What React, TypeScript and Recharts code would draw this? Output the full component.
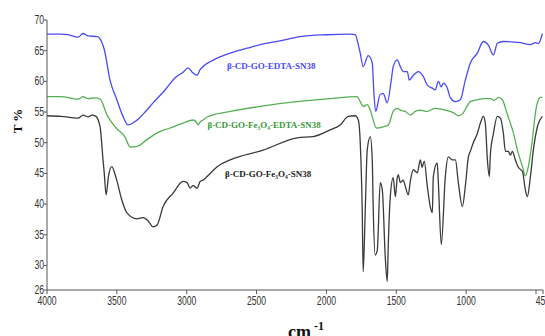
import React from "react"
import { LineChart, Line, XAxis, YAxis, ReferenceDot, Label } from "recharts"

// wavenumbers (cm-1) and transmittance (%)
const blueWn = [4000, 3900, 3850, 3778, 3742, 3706, 3640, 3610, 3590, 3549, 3500, 3460, 3420, 3380, 3340, 3298, 3241, 3155, 3083, 3026, 2990, 2961, 2926, 2904, 2868, 2832, 2782, 2689, 2567, 2453, 2331, 2188, 2000, 1830, 1794, 1772, 1758, 1737, 1701, 1672, 1660, 1648, 1615, 1593, 1565, 1536, 1522, 1493, 1471, 1450, 1421, 1407, 1378, 1342, 1307, 1278, 1242, 1221, 1199, 1178, 1163, 1135, 1113, 1077, 1042, 1006, 970, 920, 877, 841, 805, 777, 734, 612, 540, 504, 483, 454]
const blueT = [67.7, 67.7, 67.6, 67.2, 67.8, 67.4, 67.3, 66.5, 65.2, 60.2, 57.0, 54.5, 52.9, 53.3, 54.0, 55.0, 56.5, 58.6, 60.6, 61.5, 62.2, 61.5, 61.0, 61.9, 62.7, 63.2, 63.8, 64.6, 65.4, 66.1, 66.6, 67.3, 67.6, 67.7, 67.6, 66.0, 64.6, 62.4, 64.2, 63.0, 58.0, 55.1, 57.9, 58.0, 56.5, 60.2, 62.4, 63.5, 62.4, 61.6, 61.6, 60.2, 61.0, 61.6, 60.8, 59.4, 58.9, 58.6, 60.0, 59.1, 59.7, 58.9, 57.3, 56.7, 57.0, 60.2, 63.0, 64.6, 66.5, 65.9, 64.3, 66.2, 66.5, 66.3, 66.0, 66.3, 66.2, 67.8]

const greenWn = [4000, 3900, 3778, 3742, 3706, 3656, 3620, 3570, 3513, 3441, 3405, 3355, 3284, 3212, 3119, 3026, 2954, 2926, 2918, 2904, 2883, 2854, 2818, 2689, 2453, 2209, 1973, 1780, 1758, 1737, 1708, 1686, 1665, 1643, 1593, 1557, 1522, 1493, 1471, 1436, 1400, 1364, 1328, 1278, 1257, 1221, 1185, 1149, 1092, 1056, 1027, 992, 970, 920, 877, 827, 798, 769, 741, 705, 662, 633, 597, 576, 555, 526, 504, 483, 469, 454]
const greenT = [57.5, 57.5, 57.1, 57.5, 57.2, 57.3, 57.1, 54.5, 52.6, 50.9, 49.3, 49.4, 50.5, 51.6, 52.4, 53.2, 53.7, 53.2, 52.9, 53.4, 53.7, 54.2, 54.5, 55.1, 56.0, 56.7, 57.2, 57.5, 56.7, 55.9, 56.2, 55.3, 53.7, 52.4, 52.6, 52.9, 55.1, 55.6, 55.3, 55.1, 54.5, 55.1, 55.3, 55.1, 55.3, 55.6, 55.5, 55.3, 54.9, 54.4, 54.7, 56.0, 56.7, 57.0, 57.2, 57.2, 56.9, 57.4, 57.0, 54.6, 51.6, 48.8, 46.1, 44.6, 46.1, 50.5, 54.9, 57.0, 57.4, 57.4]

const blackWn = [4000, 3900, 3778, 3742, 3706, 3678, 3650, 3620, 3599, 3590, 3577, 3560, 3537, 3501, 3465, 3429, 3357, 3312, 3277, 3241, 3212, 3169, 3097, 3026, 2997, 2976, 2954, 2926, 2904, 2883, 2854, 2782, 2689, 2453, 2209, 2095, 1973, 1901, 1844, 1794, 1772, 1758, 1744, 1737, 1722, 1708, 1686, 1672, 1665, 1651, 1636, 1615, 1600, 1579, 1565, 1557, 1543, 1522, 1507, 1493, 1486, 1471, 1450, 1436, 1414, 1400, 1378, 1350, 1328, 1315, 1300, 1278, 1257, 1242, 1235, 1207, 1199, 1178, 1149, 1128, 1099, 1077, 1056, 1027, 1006, 984, 970, 949, 920, 898, 877, 863, 848, 834, 827, 805, 777, 755, 734, 719, 698, 684, 669, 648, 626, 597, 576, 562, 540, 519, 490, 454]
const blackT = [54.4, 54.3, 54.0, 54.5, 54.2, 54.5, 54.3, 52.6, 47.2, 45.0, 41.5, 44.5, 46.1, 43.9, 40.7, 38.6, 37.6, 37.8, 37.3, 36.3, 36.6, 39.6, 41.8, 43.7, 43.5, 42.6, 43.0, 42.6, 43.7, 43.9, 44.5, 46.1, 47.2, 48.8, 50.8, 51.0, 52.1, 52.9, 54.3, 54.4, 53.7, 50.0, 39.1, 29.0, 39.1, 48.8, 51.0, 47.2, 39.1, 31.7, 32.5, 43.5, 42.3, 31.4, 27.4, 33.7, 41.2, 44.3, 41.2, 44.3, 44.8, 43.5, 43.9, 42.9, 41.5, 43.7, 45.6, 45.1, 47.2, 46.0, 47.0, 42.9, 39.6, 38.6, 44.5, 46.7, 43.5, 33.4, 44.5, 47.7, 47.2, 47.2, 43.5, 39.6, 42.9, 47.7, 48.6, 50.0, 51.5, 53.2, 54.3, 53.2, 47.2, 44.5, 48.0, 51.5, 54.3, 54.0, 51.6, 48.6, 48.6, 48.0, 48.6, 47.2, 46.0, 45.3, 42.3, 41.2, 44.5, 48.8, 52.6, 54.3]

const xTicks = [4000, 3500, 3000, 2500, 2000, 1500, 1000, 500, 450]
const yTicks = [26, 30, 35, 40, 45, 50, 55, 60, 65, 70]

const seriesNames = ["β-CD-GO-EDTA-SN38", "β-CD-GO-Fe₃O₄-EDTA-SN38", "β-CD-GO-Fe₃O₄-SN38"]

const toPoints = (wn: number[], t: number[]) => wn.map((w, i) => ({ wn: w, t: t[i] }))

const BLUE = "#4a4af5"
const GREEN = "#55b055"
const BLACK = "#3a3a3a"

const serif = "'Liberation Serif', 'Times New Roman', serif"

// narrow-looking tick text (the original uses a condensed face)
const NarrowTick = ({ x, y, payload, textAnchor, hide500 }: any) => {
  const v = payload.value
  if (hide500 && v === 500) return null
  const anchor = textAnchor === "end" ? "end" : "middle"
  const dy = anchor === "end" ? 4 : 9
  return (
    <g transform={`translate(${x},${y}) scale(0.72,1)`}>
      <text x={0} y={dy} textAnchor={anchor} fontSize={12} fill="#333" fontFamily="'Liberation Sans', Arial, sans-serif">
        {v}
      </text>
    </g>
  )
}

const YTitle = ({ viewBox }: any) => {
  const x = viewBox.x + 17
  const y = viewBox.y + 101
  return (
    <text x={x} y={y} transform={`rotate(-90 ${x} ${y})`} textAnchor="middle" dominantBaseline="central"
      fontFamily={serif} fontWeight="bold" fontSize={13} fill="#111">
      T %
    </text>
  )
}

const XTitle = ({ viewBox }: any) => {
  const x = viewBox.x + 241
  const y = 338
  return (
    <text x={x} y={y} fontFamily={serif} fontWeight="bold" fontSize={18} fill="#111">
      cm<tspan fontSize={12} dy={-8} dx={3}>-1</tspan>
    </text>
  )
}

const seriesLabel = (value: string, fill: string) => ({
  value,
  position: "center" as const,
  fill,
  fontSize: 9,
  fontWeight: "bold",
  fontFamily: serif,
})

export default function App() {
  return (
    <div style={{ width: 545, height: 336 }}>
      <style>{"body{margin:0}"}</style>
      <LineChart width={545} height={336} margin={{ top: 20, right: 2, left: 0, bottom: 15 }}>
        <XAxis
          type="number"
          dataKey="wn"
          domain={[450, 4000]}
          reversed
          allowDataOverflow
          ticks={xTicks}
          interval={0}
          tick={<NarrowTick hide500 />}
          tickSize={4}
          tickMargin={2}
          height={31}
          stroke="#555"
        >
          <Label content={<XTitle />} />
        </XAxis>
        <YAxis
          type="number"
          domain={[26, 70]}
          ticks={yTicks}
          interval={0}
          allowDataOverflow
          tick={<NarrowTick />}
          tickSize={3}
          tickMargin={0}
          width={47}
          stroke="#555"
        >
          <Label content={<YTitle />} />
        </YAxis>
        <Line data={toPoints(blueWn, blueT)} dataKey="t" type="monotone" stroke={BLUE} strokeWidth={1.3} dot={false} isAnimationActive={false} />
        <Line data={toPoints(greenWn, greenT)} dataKey="t" type="monotone" stroke={GREEN} strokeWidth={1.3} dot={false} isAnimationActive={false} />
        <Line data={toPoints(blackWn, blackT)} dataKey="t" type="monotone" stroke={BLACK} strokeWidth={1.3} dot={false} isAnimationActive={false} />
        <ReferenceDot x={2395} y={62.5} r={0} fill="none" stroke="none" label={seriesLabel(seriesNames[0], BLUE)} />
        <ReferenceDot x={2446} y={53.0} r={0} fill="none" stroke="none" label={seriesLabel(seriesNames[1], "#3a9a3a")} />
        <ReferenceDot x={2417} y={44.9} r={0} fill="none" stroke="none" label={seriesLabel(seriesNames[2], "#222")} />
      </LineChart>
    </div>
  )
}
